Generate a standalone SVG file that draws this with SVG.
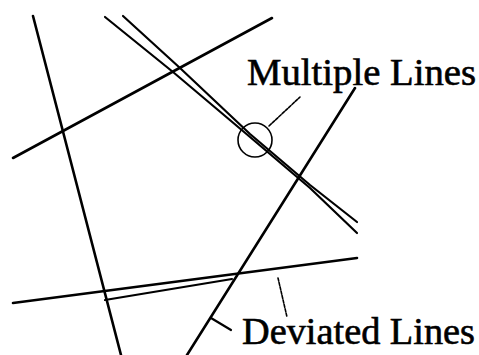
<svg xmlns="http://www.w3.org/2000/svg" width="479" height="355" viewBox="0 0 479 355">
<style>
.ln{fill:none;stroke:#000;stroke-width:2.6;stroke-linecap:round;stroke-linejoin:round}
.thin{fill:none;stroke:#000;stroke-width:2.2;stroke-linecap:round;stroke-linejoin:round}
.ld{fill:none;stroke:#000;stroke-width:1.6;stroke-dasharray:3 1.5;stroke-linecap:round}
.lbl{font-family:"Liberation Serif","Times New Roman",serif;font-size:37px;fill:#000;stroke:#000;stroke-width:0.6}
</style>
<rect width="479" height="355" fill="#fff"/>
<g id="lines">
  <line id="line1" class="ln" x1="33" y1="16" x2="121" y2="355"/>
  <line id="line2" class="ln" x1="13" y1="158" x2="272" y2="18"/>
  <polyline id="lineA" class="thin" points="105,17 173,72 250,137 310,188 357,233"/>
  <polyline id="lineB" class="thin" points="123,16 180,68 250,134 310,185 357,222"/>
  <line id="line4" class="ln" x1="355" y1="88" x2="187" y2="355"/>
  <line id="line5" class="ln" x1="13" y1="303" x2="357" y2="258"/>
  <line id="line5dev" class="thin" x1="105" y1="300" x2="232" y2="279"/>
</g>
<g id="multiple-lines">
  <circle cx="255" cy="140" r="17" fill="none" stroke="#000" stroke-width="1.6"/>
  <line class="ld" x1="269" y1="126" x2="300" y2="97"/>
  <text class="lbl" x="247" y="85" textLength="229" lengthAdjust="spacingAndGlyphs">Multiple Lines</text>
</g>
<g id="deviated-lines">
  <line class="ld" x1="278" y1="278" x2="287" y2="317"/>
  <line class="thin" x1="211" y1="318" x2="231" y2="330"/>
  <text class="lbl" x="242" y="344" textLength="233" lengthAdjust="spacingAndGlyphs">Deviated Lines</text>
</g>
</svg>
